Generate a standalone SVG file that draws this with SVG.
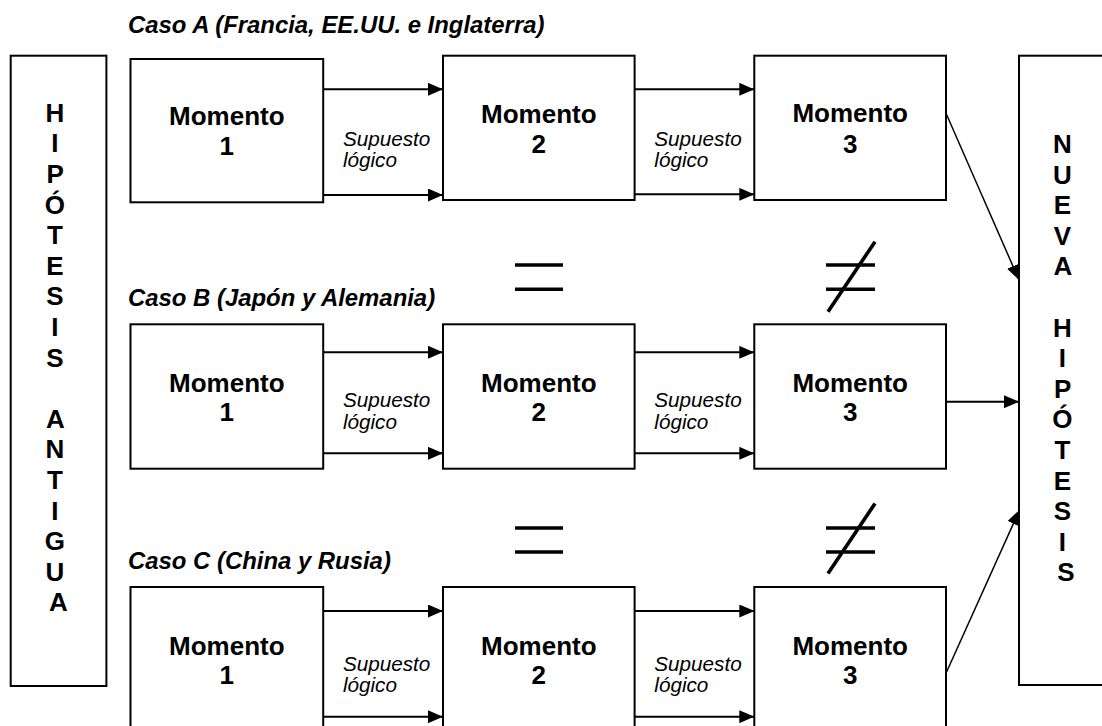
<svg xmlns="http://www.w3.org/2000/svg" width="1102" height="726" viewBox="0 0 1102 726">
  <style>
    .box { fill: #ffffff; stroke: #000000; stroke-width: 2; }
    .mom { font-family: "Liberation Sans", Arial, sans-serif; font-weight: bold; font-size: 26px; text-anchor: middle; fill: #000; }
    .col { font-family: "Liberation Sans", Arial, sans-serif; font-weight: bold; font-size: 26px; text-anchor: middle; fill: #000; }
    .caso { font-family: "Liberation Sans", Arial, sans-serif; font-weight: bold; font-style: italic; font-size: 23.9px; fill: #000; }
    .sup { font-family: "Liberation Sans", Arial, sans-serif; font-style: italic; font-size: 20.7px; fill: #000; }
    .arr { stroke: #000; stroke-width: 2; fill: none; marker-end: url(#head); }
    .diag { stroke: #000; stroke-width: 1.5; fill: none; marker-end: url(#head); }
    .sym { stroke: #000; stroke-width: 3.6; fill: none; }
  </style>
  <defs>
    <marker id="head" markerUnits="userSpaceOnUse" markerWidth="15" markerHeight="13" refX="15" refY="6.5" orient="auto">
      <path d="M0,0 L15,6.5 L0,13 Z" fill="#000"/>
    </marker>
  </defs>
  <rect width="1102" height="726" fill="#ffffff"/>

  <!-- old hypothesis column -->
  <g id="hipotesis-antigua">
    <rect class="box" x="10.7" y="55.7" width="95.7" height="630.3"/>
    <text class="col">
      <tspan x="58.5" y="121.7">H</tspan>
      <tspan x="58.5" dy="30.6">I</tspan>
      <tspan x="58.5" dy="30.6">P</tspan>
      <tspan x="58.5" dy="30.6">Ó</tspan>
      <tspan x="58.5" dy="30.6">T</tspan>
      <tspan x="58.5" dy="30.6">E</tspan>
      <tspan x="58.5" dy="30.6">S</tspan>
      <tspan x="58.5" dy="30.6">I</tspan>
      <tspan x="58.5" dy="30.6">S</tspan>
      <tspan x="58.5" dy="61.2">A</tspan>
      <tspan x="58.5" dy="30.6">N</tspan>
      <tspan x="58.5" dy="30.6">T</tspan>
      <tspan x="58.5" dy="30.6">I</tspan>
      <tspan x="58.5" dy="30.6">G</tspan>
      <tspan x="58.5" dy="30.6">U</tspan>
      <tspan x="58.5" dy="30.6">A</tspan>
    </text>
  </g>

  <!-- new hypothesis column -->
  <g id="nueva-hipotesis">
    <rect class="box" x="1019" y="55.7" width="96" height="629.3"/>
    <text class="col">
      <tspan x="1066" y="153">N</tspan>
      <tspan x="1066" dy="30.6">U</tspan>
      <tspan x="1066" dy="30.6">E</tspan>
      <tspan x="1066" dy="30.6">V</tspan>
      <tspan x="1066" dy="30.6">A</tspan>
      <tspan x="1066" dy="61.2">H</tspan>
      <tspan x="1066" dy="30.6">I</tspan>
      <tspan x="1066" dy="30.6">P</tspan>
      <tspan x="1066" dy="30.6">Ó</tspan>
      <tspan x="1066" dy="30.6">T</tspan>
      <tspan x="1066" dy="30.6">E</tspan>
      <tspan x="1066" dy="30.6">S</tspan>
      <tspan x="1066" dy="30.6">I</tspan>
      <tspan x="1066" dy="30.6">S</tspan>
    </text>
  </g>

  <!-- case titles -->
  <text class="caso" x="128" y="33">Caso A (Francia, EE.UU. e Inglaterra)</text>
  <text class="caso" x="128" y="306">Caso B (Japón y Alemania)</text>
  <text class="caso" x="128" y="569">Caso C (China y Rusia)</text>

  <!-- case A -->
  <g id="a-momento-1">
    <rect class="box" x="130.5" y="59" width="192.7" height="143.3"/>
    <text class="mom" x="226.8" y="125">Momento</text>
    <text class="mom" x="226.8" y="155.3">1</text>
  </g>
  <g id="a-momento-2">
    <rect class="box" x="443" y="55.7" width="191.6" height="144.3"/>
    <text class="mom" x="538.8" y="123">Momento</text>
    <text class="mom" x="538.8" y="153.3">2</text>
  </g>
  <g id="a-momento-3">
    <rect class="box" x="754.3" y="55.7" width="191.7" height="144.3"/>
    <text class="mom" x="850.2" y="122">Momento</text>
    <text class="mom" x="850.2" y="152.5">3</text>
  </g>

  <!-- case B -->
  <g id="b-momento-1">
    <rect class="box" x="130.5" y="324.3" width="192.7" height="144.4"/>
    <text class="mom" x="226.8" y="391.5">Momento</text>
    <text class="mom" x="226.8" y="421">1</text>
  </g>
  <g id="b-momento-2">
    <rect class="box" x="443" y="324.3" width="191.6" height="144.4"/>
    <text class="mom" x="538.8" y="391.5">Momento</text>
    <text class="mom" x="538.8" y="421">2</text>
  </g>
  <g id="b-momento-3">
    <rect class="box" x="754.3" y="324.3" width="191.7" height="144.4"/>
    <text class="mom" x="850.2" y="391.5">Momento</text>
    <text class="mom" x="850.2" y="421">3</text>
  </g>

  <!-- case C -->
  <g id="c-momento-1">
    <rect class="box" x="130.5" y="587" width="192.7" height="144.4"/>
    <text class="mom" x="226.8" y="654.5">Momento</text>
    <text class="mom" x="226.8" y="684">1</text>
  </g>
  <g id="c-momento-2">
    <rect class="box" x="443" y="587" width="191.6" height="144.4"/>
    <text class="mom" x="538.8" y="654.5">Momento</text>
    <text class="mom" x="538.8" y="684">2</text>
  </g>
  <g id="c-momento-3">
    <rect class="box" x="754.3" y="587" width="191.7" height="144.4"/>
    <text class="mom" x="850.2" y="654.5">Momento</text>
    <text class="mom" x="850.2" y="684">3</text>
  </g>

  <!-- connectors -->
  <g id="connectors">
    <line class="arr" x1="323.2" y1="89.3" x2="443" y2="89.3"/>
    <line class="arr" x1="323.2" y1="195" x2="443" y2="195"/>
    <line class="arr" x1="634.6" y1="89.3" x2="754.3" y2="89.3"/>
    <line class="arr" x1="634.6" y1="194.3" x2="754.3" y2="194.3"/>
    <line class="diag" x1="946" y1="113.3" x2="1019" y2="280"/>

    <line class="arr" x1="323.2" y1="352.3" x2="443" y2="352.3"/>
    <line class="arr" x1="323.2" y1="453.3" x2="443" y2="453.3"/>
    <line class="arr" x1="634.6" y1="352.3" x2="754.3" y2="352.3"/>
    <line class="arr" x1="634.6" y1="453.3" x2="754.3" y2="453.3"/>
    <line class="arr" x1="946" y1="401.7" x2="1019" y2="401.7"/>

    <line class="arr" x1="323.2" y1="611" x2="443" y2="611"/>
    <line class="arr" x1="323.2" y1="716.7" x2="443" y2="716.7"/>
    <line class="arr" x1="634.6" y1="611" x2="754.3" y2="611"/>
    <line class="arr" x1="634.6" y1="716.7" x2="754.3" y2="716.7"/>
    <line class="diag" x1="946" y1="673.3" x2="1019.5" y2="510"/>
  </g>

  <!-- connector labels -->
  <g id="labels">
    <text class="sup" x="342.9" y="146">Supuesto</text>
    <text class="sup" x="342.9" y="167">lógico</text>
    <text class="sup" x="654.3" y="146">Supuesto</text>
    <text class="sup" x="654.3" y="167">lógico</text>
    <text class="sup" x="342.9" y="406.7">Supuesto</text>
    <text class="sup" x="342.9" y="429">lógico</text>
    <text class="sup" x="654.3" y="406.7">Supuesto</text>
    <text class="sup" x="654.3" y="429">lógico</text>
    <text class="sup" x="342.9" y="671">Supuesto</text>
    <text class="sup" x="342.9" y="692">lógico</text>
    <text class="sup" x="654.3" y="671">Supuesto</text>
    <text class="sup" x="654.3" y="692">lógico</text>
  </g>

  <!-- equal / not-equal marks between cases -->
  <g id="symbols">
    <line class="sym" x1="515" y1="265" x2="563" y2="265"/>
    <line class="sym" x1="515" y1="289.3" x2="563" y2="289.3"/>
    <line class="sym" x1="826" y1="265" x2="875" y2="265"/>
    <line class="sym" x1="826" y1="289.3" x2="875" y2="289.3"/>
    <line class="sym" x1="828" y1="311.7" x2="875" y2="241.7"/>

    <line class="sym" x1="515" y1="528" x2="563" y2="528"/>
    <line class="sym" x1="515" y1="552" x2="563" y2="552"/>
    <line class="sym" x1="826" y1="528" x2="875" y2="528"/>
    <line class="sym" x1="826" y1="552" x2="875" y2="552"/>
    <line class="sym" x1="828" y1="573.5" x2="875" y2="503.5"/>
  </g>
</svg>
